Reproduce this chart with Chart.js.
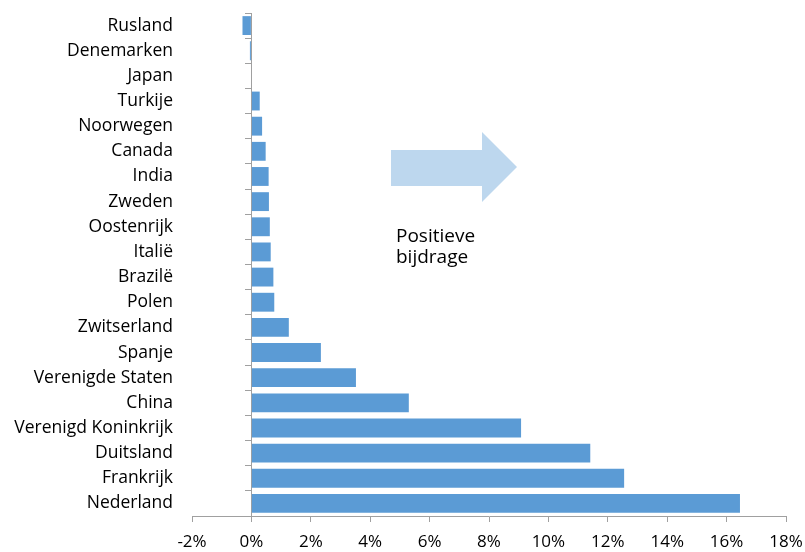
<!DOCTYPE html>
<html><head><meta charset="utf-8">
<script src="https://cdn.jsdelivr.net/npm/chart.js@4/dist/chart.umd.min.js"></script>
<style>html,body{margin:0;padding:0;background:#fff}#wrap{width:805px;height:552px;position:relative}</style>
</head><body><div id="wrap"><canvas id="c" width="805" height="552"></canvas></div>
<script>
const categories = ['Rusland','Denemarken','Japan','Turkije','Noorwegen','Canada','India','Zweden','Oostenrijk','Italië','Brazilë','Polen','Zwitserland','Spanje','Verenigde Staten','China','Verenigd Koninkrijk','Duitsland','Frankrijk','Nederland'];
const contributions = [-0.30,-0.05,0,0.28,0.36,0.48,0.58,0.59,0.62,0.65,0.74,0.77,1.26,2.34,3.52,5.30,9.08,11.41,12.55,16.45];
const xMin = -2, xMax = 18, xStep = 2;
const annotationLines = ['Positieve','bijdrage'];

const FONT = "'Open Sans', sans-serif";
const AXIS = '#a0a0a0';

const annotationPlugin = {
  id: 'annot',
  afterDraw(chart) {
    const ctx = chart.ctx;
    ctx.save();
    ctx.fillStyle = '#BDD7EE';
    ctx.beginPath();
    ctx.moveTo(391,150); ctx.lineTo(482,150); ctx.lineTo(482,132); ctx.lineTo(517,167);
    ctx.lineTo(482,202); ctx.lineTo(482,186); ctx.lineTo(391,186); ctx.closePath(); ctx.fill();
    ctx.fillStyle = '#000';
    ctx.font = "19px 'Open Sans'";
    ctx.textAlign = 'left'; ctx.textBaseline = 'alphabetic';
    ctx.fillText(annotationLines[0], 396, 242);
    ctx.fillText(annotationLines[1], 396, 263);
    ctx.restore();
  }
};

new Chart(document.getElementById('c'), {
  type: 'bar',
  data: { labels: categories, datasets: [{ data: contributions, backgroundColor: '#5B9BD5', barPercentage: 0.75, categoryPercentage: 1 }] },
  options: {
    indexAxis: 'y', responsive: false, animation: false, devicePixelRatio: 1,
    layout: { padding: { top: 13, left: 6, right: 0, bottom: 0 } },
    plugins: { legend: { display: false }, tooltip: { enabled: false } },
    scales: {
      x: { type: 'linear', min: xMin, max: xMax,
           ticks: { stepSize: xStep, callback: v => v + '%', font: { family: FONT, size: 17 }, color: '#000', padding: 10, maxRotation: 0 },
           grid: { drawOnChartArea: false, tickLength: 6, color: AXIS }, border: { color: AXIS },
           afterFit(s) { s.height = 36; s.paddingLeft = 0; s.paddingRight = 19; } },
      y: { ticks: { font: { family: FONT, size: 17.5 }, color: '#000', padding: 19 },
           grid: { display: false, drawTicks: false }, border: { display: false },
           afterFit(s) { s.width = 186; s.paddingTop = 0; s.paddingBottom = 0; } },
      y2: { type: 'category', position: { x: 0 }, offset: true,
            ticks: { display: false },
            grid: { offset: true, drawOnChartArea: false, tickLength: 6, color: AXIS }, border: { color: AXIS },
            afterFit(s) { s.paddingTop = 0; s.paddingBottom = 0; } }
    }
  },
  plugins: [annotationPlugin]
});
</script></body></html>
